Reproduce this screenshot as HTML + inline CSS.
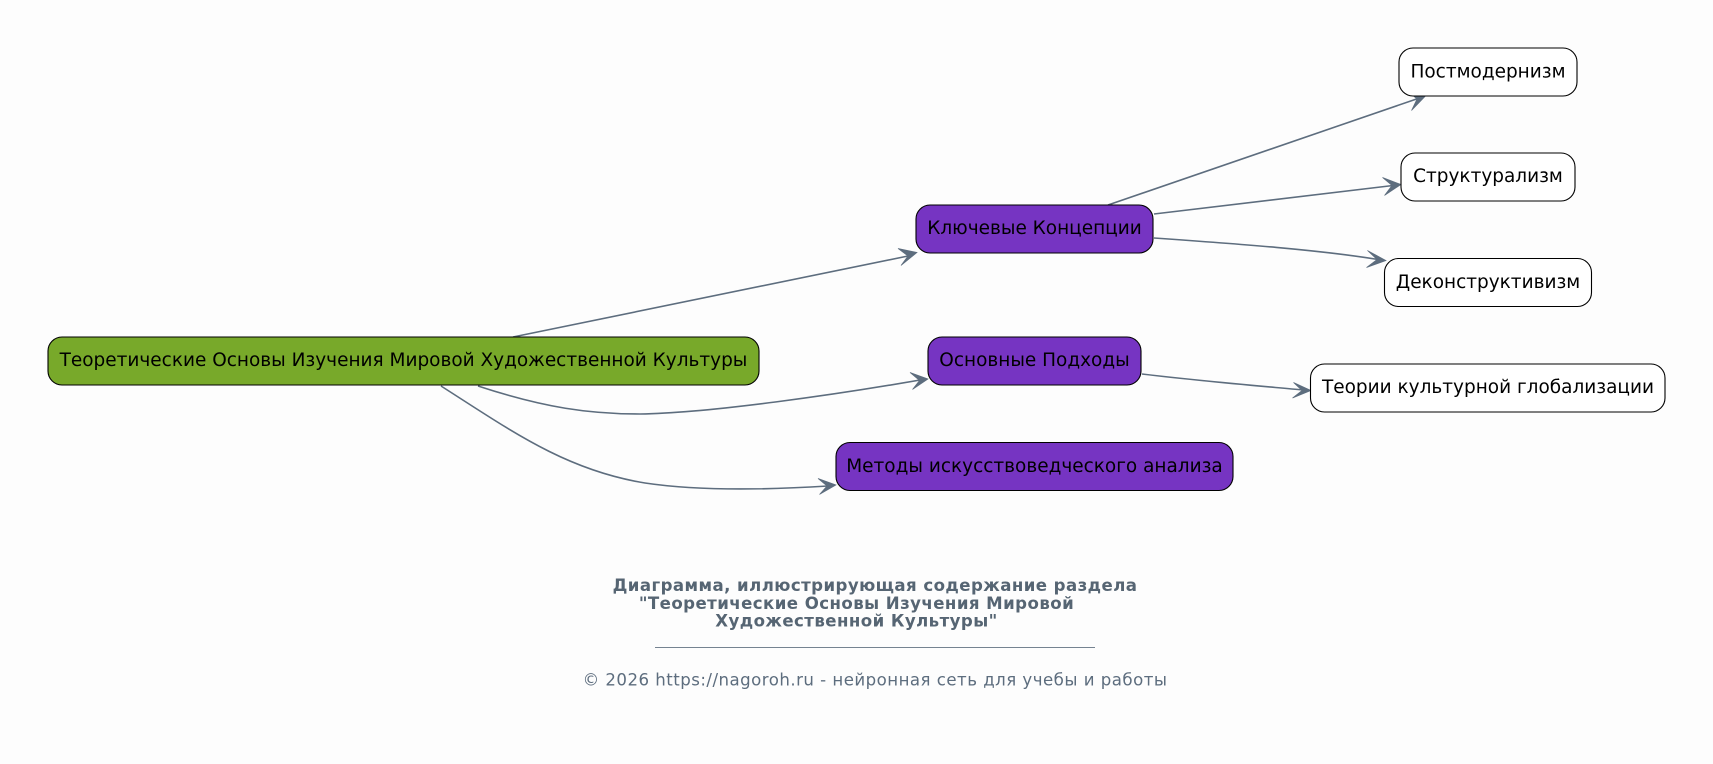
<!DOCTYPE html>
<html lang="ru">
<head>
<meta charset="utf-8">
<title>Диаграмма</title>
<style>
html,body{margin:0;padding:0;background:#fdfdfd;width:1713px;height:764px;overflow:hidden}
svg{display:block}
text{font-family:"DejaVu Sans","Liberation Sans",sans-serif}
.n{font-size:18.48px;fill:#000;text-anchor:middle}
.e{fill:none;stroke:#5d6d7e;stroke-width:1.6}
.a{fill:#5d6d7e;stroke:#5d6d7e;stroke-width:.7;stroke-linejoin:miter}
.b{fill:#fff;stroke:#000;stroke-width:1.1}
.t{font-size:16.6px;letter-spacing:.43px;font-weight:bold;fill:#566573;text-anchor:middle}
.c{font-size:16.6px;letter-spacing:.475px;fill:#5d6d7e;text-anchor:middle}
</style>
</head>
<body>
<svg width="1713" height="764" viewBox="0 0 1713 764" xmlns="http://www.w3.org/2000/svg">
<rect width="1713" height="764" fill="#fdfdfd"/>

<path class="e" d="M513 337 L908 256"/>
<polygon class="a" points="898,248.5 917,252.5 901,265.5 908,256"/>

<path class="e" d="M478 386 C545 408 590 414 640 414 C710 413 840 394 920 380"/>
<polygon class="a" points="910,372.5 928,379 912.5,389.5 919.5,380.5"/>

<path class="e" d="M441 386 C510 430 565 470 645 483 C705 492 780 489 828 486"/>
<polygon class="a" points="818,478.5 836,485 819.5,494.5 827,486"/>

<path class="e" d="M1108 205 L1418 98.5"/>
<polygon class="a" points="1410.5,93.5 1425.5,96 1411.5,110.5 1417,99"/>

<path class="e" d="M1154 214 C1240 203 1320 193.5 1393 185.5"/>
<polygon class="a" points="1382.5,177.5 1401,184.5 1384.5,195.5 1392,185.5"/>

<path class="e" d="M1154 238 C1240 244 1320 250 1378 259.5"/>
<polygon class="a" points="1367.5,250.5 1386,260.5 1366.5,267.5 1377,259.5"/>

<path class="e" d="M1142 374 C1200 381 1260 386 1303 390"/>
<polygon class="a" points="1293.5,382.5 1311,390.5 1292.5,398 1302,390.5"/>

<rect x="48" y="337" width="711" height="48" rx="14" fill="#78a92a" stroke="#000" stroke-width="1.1"/>
<text class="n" x="403.5" y="366">Теоретические Основы Изучения Мировой Художественной Культуры</text>

<rect x="916" y="205" width="237" height="48" rx="14" fill="#7634c2" stroke="#000" stroke-width="1.1"/>
<text class="n" x="1034.5" y="234">Ключевые Концепции</text>

<rect x="928" y="337" width="213" height="48" rx="14" fill="#7634c2" stroke="#000" stroke-width="1.1"/>
<text class="n" x="1034.5" y="366">Основные Подходы</text>

<rect x="836" y="442.5" width="397" height="48" rx="14" fill="#7634c2" stroke="#000" stroke-width="1.1"/>
<text class="n" x="1034.5" y="472">Методы искусствоведческого анализа</text>

<rect class="b" x="1399" y="48" width="178" height="48" rx="14"/>
<text class="n" x="1488" y="77.5">Постмодернизм</text>

<rect class="b" x="1401" y="153" width="174" height="48" rx="14"/>
<text class="n" x="1488" y="182">Структурализм</text>

<rect class="b" x="1384.5" y="258.5" width="207" height="48" rx="14"/>
<text class="n" x="1488" y="288">Деконструктивизм</text>

<rect class="b" x="1310.5" y="364" width="354.5" height="48" rx="14"/>
<text class="n" x="1488" y="393">Теории культурной глобализации</text>

<text class="t" x="875" y="591">Диаграмма, иллюстрирующая содержание раздела</text>
<text class="t" x="856.5" y="609">"Теоретические Основы Изучения Мировой</text>
<text class="t" x="856.5" y="626.5">Художественной Культуры"</text>
<rect x="655" y="647" width="440" height="1" fill="#5d6d7e" fill-opacity=".85"/>
<text class="c" x="875" y="685.5">© 2026 https://nagoroh.ru - нейронная сеть для учебы и работы</text>
</svg>
</body>
</html>
